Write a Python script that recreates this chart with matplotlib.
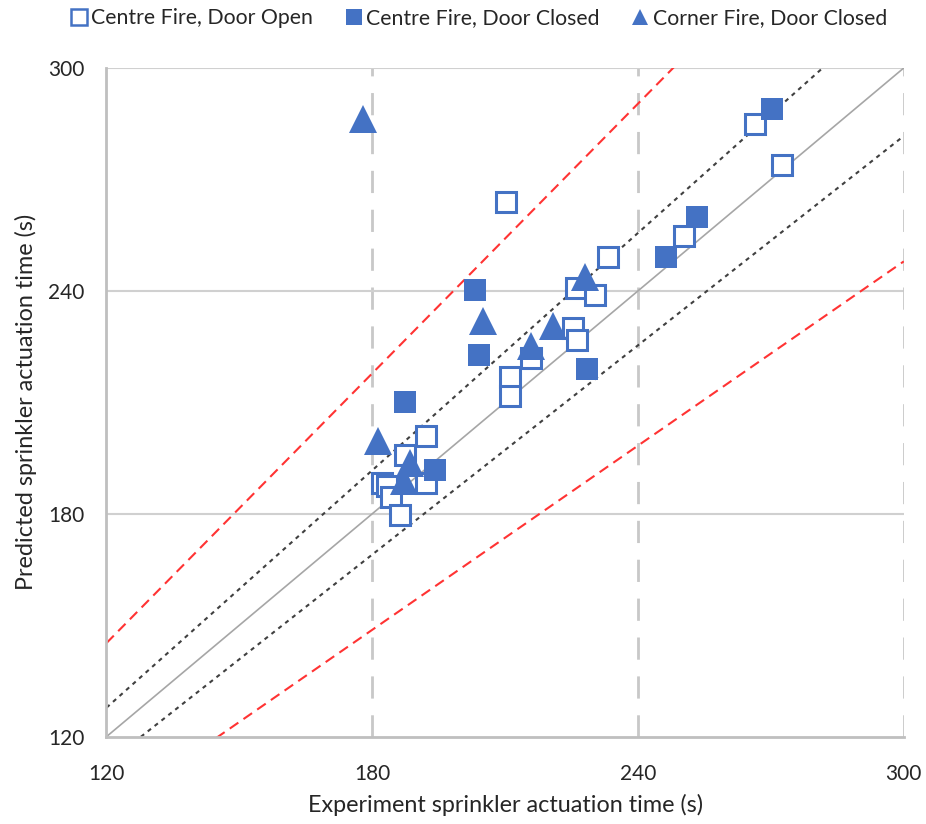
import numpy as np
import matplotlib
matplotlib.use('Agg')
from matplotlib import pyplot as plt
from matplotlib.lines import Line2D

# Centre fire, door open (hollow squares)
open_exp = [266.5, 272.4, 250.4, 210.1, 233.2, 226.1, 230.2, 225.3, 226.2, 215.9,
            211.2, 211.2, 192.2, 187.3, 182.3, 183.4, 184.3, 186.2, 192.2]
open_pred = [285.0, 274.0, 254.9, 263.9, 249.1, 240.8, 239.0, 230.0, 226.7, 221.9,
             216.8, 211.6, 201.0, 195.9, 188.3, 187.4, 184.6, 179.7, 188.2]

# Centre fire, door closed (filled squares)
closed_exp = [270.2, 253.3, 246.4, 203.1, 204.0, 228.4, 187.3, 194.1]
closed_pred = [288.9, 259.9, 249.1, 240.3, 222.8, 219.1, 210.0, 191.8]

# Corner fire, door closed (triangles)
corner_exp = [177.9, 228.0, 205.0, 220.8, 215.9, 181.3, 188.5, 187.1]
corner_pred = [286.2, 243.6, 231.8, 230.5, 225.1, 199.5, 193.6, 188.7]

ticks = [120, 180, 240, 300]
band_inner = 1.065
band_outer = 1.21

blue = '#4472C4'
plt.rcParams['font.family'] = ['Lato', 'DejaVu Sans']

fig = plt.figure(figsize=(9.26, 8.24), dpi=100)
ax = fig.add_axes([0.115, 0.106, 0.861, 0.8115])

xs = np.array([120, 300])
ax.plot(xs, xs, color='#a6a6a6', lw=1.2, zorder=2)
for f in (band_inner, 1 / band_inner):
    ax.plot(xs, xs * f, color='#404040', lw=1.5, dashes=(2, 2.2), zorder=2)
for f in (band_outer, 1 / band_outer):
    ax.plot(xs, xs * f, color='#ff3333', lw=1.5, dashes=(5, 3), zorder=2)

ax.plot(open_exp, open_pred, 's', ms=15, mfc='white', mec=blue, mew=2.2, zorder=3)
ax.plot(closed_exp, closed_pred, 's', ms=16.5, mfc=blue, mec=blue, mew=0, zorder=4)
ax.plot(corner_exp, corner_pred, '^', ms=20, mfc=blue, mec=blue, mew=0, zorder=5)

ax.set_xlim(120, 300)
ax.set_ylim(120, 300)
ax.set_xticks(ticks)
ax.set_yticks(ticks)

for t in ticks[1:]:
    ax.axhline(t, color='#d0d0d0', lw=1.5, zorder=1)
    ax.axvline(t, color='#c8c8c8', lw=2, dashes=(8, 6), zorder=1)

for s in ('top', 'right'):
    ax.spines[s].set_visible(False)
for s in ('left', 'bottom'):
    ax.spines[s].set_color('#bfbfbf')
    ax.spines[s].set_linewidth(2)

ax.tick_params(length=0, labelsize=15, colors='#262626')
ax.tick_params(axis='x', pad=20)
ax.tick_params(axis='y', pad=16)
ax.set_xlabel('Experiment sprinkler actuation time (s)', fontsize=16.8, color='#262626', labelpad=7)
ax.set_ylabel('Predicted sprinkler actuation time (s)', fontsize=16.8, color='#262626', labelpad=8)

handles = [
    Line2D([], [], marker='s', ls='none', ms=12, mfc='white', mec=blue, mew=1.8),
    Line2D([], [], marker='s', ls='none', ms=12, mfc=blue, mec=blue, mew=0),
    Line2D([], [], marker='^', ls='none', ms=11, mfc=blue, mec=blue, mew=0),
]
labels = ['Centre Fire, Door Open', 'Centre Fire, Door Closed', 'Corner Fire, Door Closed']
fig.legend(handles, labels, loc='center', bbox_to_anchor=(0.517, 0.978), ncol=3,
           frameon=False, fontsize=15.3, handlelength=0.8, handletextpad=0.2,
           columnspacing=1.5, labelcolor='#262626')

fig.savefig('out.png', dpi=100)
